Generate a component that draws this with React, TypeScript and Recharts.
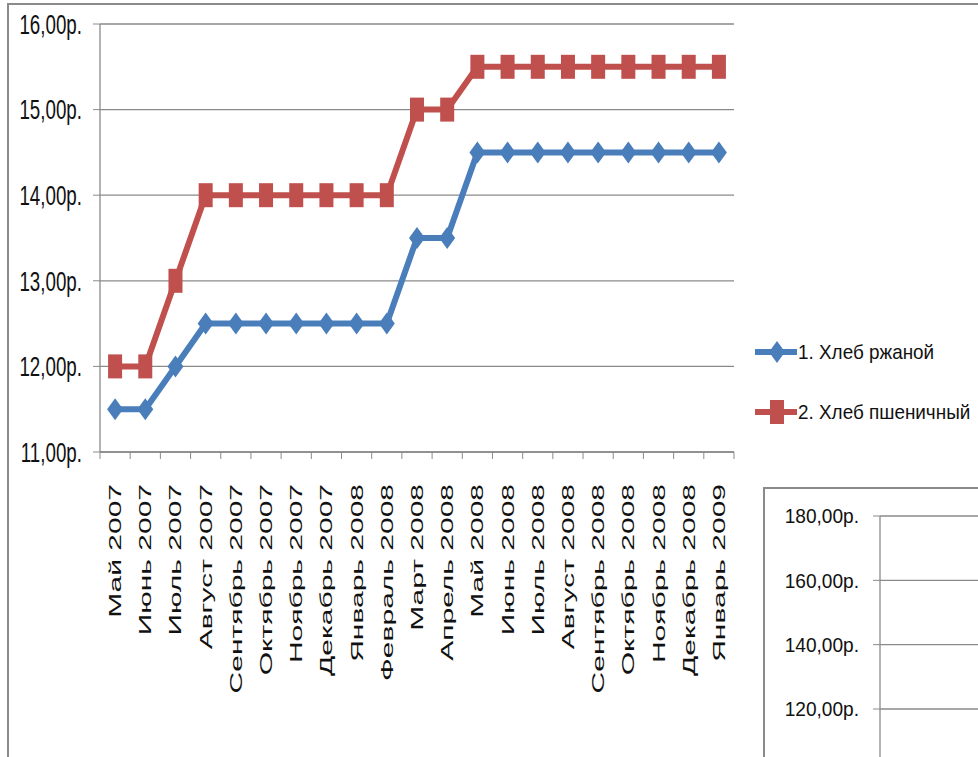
import React from 'react';
import { LineChart, Line, XAxis, YAxis, CartesianGrid, Legend } from 'recharts';

const months = [
  'Май 2007', 'Июнь 2007', 'Июль 2007', 'Август 2007', 'Сентябрь 2007', 'Октябрь 2007',
  'Ноябрь 2007', 'Декабрь 2007', 'Январь 2008', 'Февраль 2008', 'Март 2008', 'Апрель 2008',
  'Май 2008', 'Июнь 2008', 'Июль 2008', 'Август 2008', 'Сентябрь 2008', 'Октябрь 2008',
  'Ноябрь 2008', 'Декабрь 2008', 'Январь 2009',
];
const ryeBread = [11.5, 11.5, 12, 12.5, 12.5, 12.5, 12.5, 12.5, 12.5, 12.5, 13.5, 13.5, 14.5, 14.5, 14.5, 14.5, 14.5, 14.5, 14.5, 14.5, 14.5];
const wheatBread = [12, 12, 13, 14, 14, 14, 14, 14, 14, 14, 15, 15, 15.5, 15.5, 15.5, 15.5, 15.5, 15.5, 15.5, 15.5, 15.5];
const priceTicks = [11, 12, 13, 14, 15, 16];
const seriesNames = ['1. Хлеб ржаной', '2. Хлеб пшеничный'];

// second (cut-off) chart: only the top of its axis is visible
const basketTicks = [120, 140, 160, 180];

const data = months.map((month, i) => ({ month, rye: ryeBread[i], wheat: wheatBread[i] }));

const BLUE = '#4A7EBB';
const RED = '#C0504D';
const AXIS = '#8a8a8a';
const FONT = '"Liberation Sans", Arial, sans-serif';

const PLOT_LEFT = 100;
const PLOT_RIGHT = 734;
const PLOT_TOP = 24;
const PLOT_BOTTOM = 452;
const CHART_W = 978;
const CHART_H = 720;
const BAND = (PLOT_RIGHT - PLOT_LEFT) / months.length;

const fmt = (v: number) => `${v.toFixed(2).replace('.', ',')}р.`;

const Diamond = ({ cx, cy }: any) =>
  cx == null ? null : (
    <path d={`M${cx},${cy - 11} L${cx + 8},${cy} L${cx},${cy + 11} L${cx - 8},${cy} Z`} fill={BLUE} />
  );

const Square = ({ cx, cy }: any) =>
  cx == null ? null : <rect x={cx - 7} y={cy - 12} width={14} height={24} fill={RED} />;

const PriceTick = ({ x, y, payload }: any) => (
  <text
    transform={`translate(${x},${y}) scale(0.67,1)`}
    textAnchor="end"
    dy="0.35em"
    fontSize={28}
    fontFamily={FONT}
    fill="#111"
  >
    {fmt(payload.value)}
  </text>
);

const BasketTick = ({ x, y, payload }: any) => (
  <text
    transform={`translate(${x},${y}) scale(0.91,1)`}
    textAnchor="end"
    dy="0.35em"
    fontSize={21}
    fontFamily={FONT}
    fill="#111"
  >
    {fmt(payload.value)}
  </text>
);

const MonthTick = ({ x, index, payload }: any) => {
  const half = BAND / 2;
  return (
    <g>
      <line x1={x - half} y1={PLOT_BOTTOM} x2={x - half} y2={PLOT_BOTTOM + 7} stroke={AXIS} />
      {index === months.length - 1 && (
        <line x1={x + half} y1={PLOT_BOTTOM} x2={x + half} y2={PLOT_BOTTOM + 7} stroke={AXIS} />
      )}
      <text
        transform={`translate(${x},${PLOT_BOTTOM + 32}) rotate(-90) scale(1,0.57)`}
        textAnchor="end"
        dy="0.35em"
        fontSize={30}
        fontFamily={FONT}
        fill="#111"
      >
        {payload.value}
      </text>
    </g>
  );
};

const LegendContent = () => (
  <svg width={230} height={120}>
    {seriesNames.map((name, i) => {
      const cy = 30 + i * 60;
      const color = i === 0 ? BLUE : RED;
      return (
        <g key={name}>
          <line x1={3} y1={cy} x2={45} y2={cy} stroke={color} strokeWidth={6} />
          {i === 0 ? <Diamond cx={25} cy={cy} /> : <Square cx={25} cy={cy} />}
          <text
            transform={`translate(46,${cy}) scale(0.9,1)`}
            dy="0.35em"
            fontSize={21}
            fontFamily={FONT}
            fill="#111"
          >
            {name}
          </text>
        </g>
      );
    })}
  </svg>
);

export default function App() {
  return (
    <div
      style={{
        position: 'absolute',
        left: 0,
        top: 0,
        width: 978,
        height: 757,
        overflow: 'hidden',
        background: '#fff',
      }}
    >
      <div
        style={{
          position: 'absolute',
          left: 7,
          top: 3,
          width: 1100,
          height: 900,
          border: `2.5px solid ${AXIS}`,
        }}
      />
      <div style={{ position: 'absolute', left: 0, top: 0 }}>
        <LineChart
          width={CHART_W}
          height={CHART_H}
          data={data}
          margin={{ top: PLOT_TOP, right: CHART_W - PLOT_RIGHT, left: 0, bottom: 0 }}
        >
          <CartesianGrid vertical={false} stroke={AXIS} strokeWidth={1.3} />
          <XAxis
            dataKey="month"
            interval={0}
            tickLine={false}
            axisLine={{ stroke: AXIS, strokeWidth: 1.3 }}
            height={CHART_H - PLOT_BOTTOM}
            padding={{ left: BAND / 2, right: BAND / 2 }}
            tick={<MonthTick />}
          />
          <YAxis
            width={PLOT_LEFT}
            domain={[11, 16]}
            ticks={priceTicks}
            tickSize={7}
            tickMargin={11}
            tickLine={{ stroke: AXIS }}
            axisLine={{ stroke: AXIS, strokeWidth: 1.3 }}
            tick={<PriceTick />}
          />
          <Legend
            layout="vertical"
            align="center"
            verticalAlign="middle"
            wrapperStyle={{ left: 752, top: 322, width: 230 }}
            content={<LegendContent />}
          />
          <Line
            dataKey="rye"
            name={seriesNames[0]}
            stroke={BLUE}
            strokeWidth={6}
            dot={<Diamond />}
            activeDot={false}
            isAnimationActive={false}
          />
          <Line
            dataKey="wheat"
            name={seriesNames[1]}
            stroke={RED}
            strokeWidth={6}
            dot={<Square />}
            activeDot={false}
            isAnimationActive={false}
          />
        </LineChart>
      </div>
      <div
        style={{
          position: 'absolute',
          left: 763,
          top: 487,
          width: 400,
          height: 400,
          border: `2px solid ${AXIS}`,
          background: '#fff',
        }}
      >
        <LineChart
          width={400}
          height={646}
          data={months.map((month) => ({ month }))}
          margin={{ top: 27, right: 0, left: 0, bottom: 40 }}
        >
          <CartesianGrid vertical={false} stroke={AXIS} strokeWidth={1.3} />
          <XAxis dataKey="month" hide />
          <YAxis
            width={115}
            type="number"
            domain={[0, 180]}
            allowDataOverflow
            ticks={basketTicks}
            tickSize={7}
            tickMargin={14}
            tickLine={{ stroke: AXIS }}
            axisLine={{ stroke: AXIS, strokeWidth: 1.3 }}
            tick={<BasketTick />}
          />
          <Line dataKey="basket" stroke={BLUE} dot={false} isAnimationActive={false} />
        </LineChart>
      </div>
    </div>
  );
}
